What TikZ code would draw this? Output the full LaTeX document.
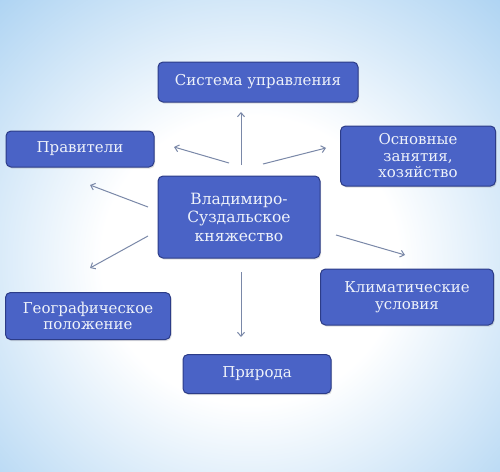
\documentclass[tikz,border=0pt]{standalone}
\usepackage{fontspec}
\setmainfont{DejaVu Serif}
\usetikzlibrary{arrows.meta,shadows}
\definecolor{bgblue}{HTML}{86BEEC}
\definecolor{boxfill}{HTML}{4A63C6}
\definecolor{boxline}{HTML}{2C3C88}
\definecolor{boxtext}{HTML}{EEF2FA}
\definecolor{arrowc}{HTML}{7A88A8}
\pgfdeclareradialshading{bgshade}{\pgfpoint{0bp}{0bp}}{color(0bp)=(white); color(12bp)=(white); color(32bp)=(bgblue!75); color(46bp)=(bgblue)}
\tikzset{
  box/.style={draw=boxline, line width=1pt, fill=boxfill, rounded corners=5pt,
    text=boxtext, align=center, font=\fontsize{15}{16.5}\selectfont,
    inner sep=0pt, drop shadow={shadow xshift=1pt, shadow yshift=-1.5pt, opacity=0.25}},
  arr/.style={draw=arrowc, line width=1pt, -{Straight Barb[length=4pt,width=7pt]}}
}
\begin{document}
\begin{tikzpicture}[x=1pt,y=-1pt]
\useasboundingbox (0,0) rectangle (500,471);
\shade[shading=bgshade] (-60,-40) rectangle (560,560);
\node[box, minimum width=200pt, minimum height=40pt] (sys) at (258,82) {Система управления};
\node[box, minimum width=148pt, minimum height=36pt] (prav) at (80,149) {Правители};
\node[box, minimum width=155pt, minimum height=60pt] (osn) at (418,156) {Основные\\занятия,\\хозяйство};
\node[box, minimum width=162pt, minimum height=82pt, font=\fontsize{15.5}{18.5}\selectfont] (vs) at (239,217) {Владимиро-\\Суздальское\\княжество};
\node[box, minimum width=165pt, minimum height=47pt] (geo) at (88,316) {Географическое\\положение};
\node[box, minimum width=173pt, minimum height=56pt] (klim) at (407,297) {Климатические\\условия};
\node[box, minimum width=148pt, minimum height=39pt] (prir) at (257,374) {Природа};
\coordinate (a1s) at (241,165); \coordinate (a1e) at (241,112);
\coordinate (a2s) at (229,163); \coordinate (a2e) at (174,147);
\coordinate (a3s) at (263,164); \coordinate (a3e) at (326,148);
\coordinate (a4s) at (148,207); \coordinate (a4e) at (90,185);
\coordinate (a5s) at (148,236); \coordinate (a5e) at (90,268);
\coordinate (a6s) at (336,235); \coordinate (a6e) at (405,255);
\coordinate (a7s) at (241,272); \coordinate (a7e) at (241,337);
\draw[arr] (a1s) -- (a1e);
\draw[arr] (a2s) -- (a2e);
\draw[arr] (a3s) -- (a3e);
\draw[arr] (a4s) -- (a4e);
\draw[arr] (a5s) -- (a5e);
\draw[arr] (a6s) -- (a6e);
\draw[arr] (a7s) -- (a7e);
\end{tikzpicture}
\end{document}
